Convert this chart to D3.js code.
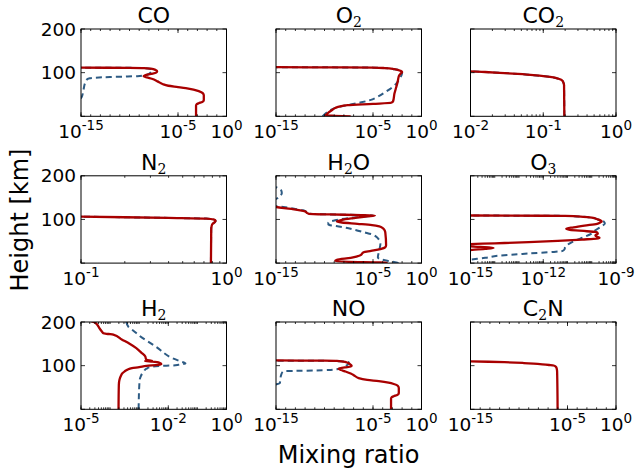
<!DOCTYPE html>
<html><head><meta charset="utf-8">
<script src="https://cdn.jsdelivr.net/npm/d3@7"></script>
<style>
body{margin:0;background:#fff}
svg{display:block}
text{font-family:"DejaVu Sans",sans-serif;fill:#000}
</style>
</head><body>
<svg id="c" width="635" height="472"></svg>
<script>
// ---------------- data: each profile is [height km, log10(mixing ratio)] ----------------
const titles = ["CO","O_2","CO_2","N_2","H_2O","O_3","H_2","NO","C_2N"];
const xDomainExp = [[-15,0],[-15,0],[-2,0],[-1,0],[-15,0],[-15,-9],[-5,0],[-15,0],[-15,0]];
const xTickLabelExp = [[-15,-5,0],[-15,-5,0],[-2,-1,0],[-1,0],[-15,-5,0],[-15,-12,-9],[-5,-2,0],[-15,-5,0],[-15,-5,0]];
const heightTicks = [0,100,200];
const heightLabels = [100,200];

const coRed = [[112.5,-17],[111.5,-15],[111,-10],[110.5,-8.5],[109,-7.8],[106,-7.3],[103,-7.15],[100,-7.25],[97,-7.8],[94,-8.4],[92,-8.55],[89,-8.2],[86,-7.7],[80,-7.1],[74,-6.6],[70,-6.0],[67,-5.0],[64.5,-4.2],[61,-3.4],[57.5,-2.86],[53,-2.45],[48,-2.34],[37,-2.34],[33,-2.5],[30,-2.86],[27,-3.1],[24,-3.14],[0,-3.14]];
const coBlue = [[30,-16],[44,-14.93],[60,-14.75],[75,-14.6],[83,-14.45],[87,-14.1],[88.5,-13.5],[90,-12],[91,-10.5],[92,-9.2],[93.5,-8.5],[97,-8.0],[101,-7.8],[106,-7.65],[109,-7.9],[110.5,-8.5],[111,-10],[111.5,-15],[112.5,-17]];

const o2Red = [[113,-17],[112.5,-15],[112,-8],[111.5,-5],[110.5,-3.8],[108,-2.8],[104,-2.15],[101.5,-2.0],[98,-2.15],[94,-2.3],[90,-2.36],[80,-2.45],[67,-2.6],[52,-2.79],[34.5,-2.93],[31,-3.14],[28.5,-5.0],[25.5,-7.6],[22,-8.5],[19,-8.9],[14,-9.25],[8.4,-9.6],[4,-9.8],[2.3,-9.9],[1.2,-9.0],[0,-7.3]];
const o2Blue = [[0,-10.2],[2,-10.1],[8,-9.8],[14,-9.4],[18,-9.0],[21,-8.7],[24,-8.0],[27,-7.3],[32,-6.2],[37,-5.3],[45,-4.5],[56,-3.7],[65,-3.1],[75,-2.6],[85,-2.3],[95,-2.05],[100,-2.0],[104,-2.15],[108,-2.8],[110.5,-3.8],[111.5,-5],[112,-8],[112.5,-15],[113,-17]];

const co2Red = [[104.5,-3],[103,-2],[101.5,-1.8],[99.7,-1.6],[97,-1.35],[94.3,-1.135],[91.5,-0.97],[89,-0.86],[86,-0.79],[83,-0.745],[78,-0.725],[71,-0.714],[0,-0.71]];
const co2Blue = [[104.5,-3],[103,-2],[101.5,-1.8],[99.7,-1.6],[97,-1.35],[94.3,-1.135],[91.5,-0.97],[89,-0.86],[86,-0.79],[83,-0.745],[78,-0.725],[71,-0.714],[0,-0.71]];

const n2Red = [[108,-1.5],[106.3,-1],[105,-0.7],[103.5,-0.4],[102,-0.14],[100,-0.09],[97,-0.075],[94,-0.08],[90,-0.095],[85,-0.102],[78,-0.105],[0,-0.107]];
const n2Blue = [[108,-1.5],[106.3,-1],[105,-0.7],[103.5,-0.4],[102,-0.14],[100,-0.09],[97,-0.075],[94,-0.08],[90,-0.095],[85,-0.102],[78,-0.105],[0,-0.107]];

const h2oRed = [[135,-18],[129.5,-15.3],[128.5,-15],[124,-13.4],[121,-12.5],[118.5,-12.0],[115,-11.8],[113,-11.6],[111.5,-9.5],[110,-6.2],[108.8,-4.8],[107,-5.6],[103,-7.0],[99,-8.2],[95.4,-8.72],[93,-8.2],[90,-6.6],[87,-5.1],[84,-4.35],[80,-3.98],[75,-3.8],[70,-3.73],[41,-3.65],[36,-3.75],[32,-4.24],[28,-5.2],[25,-5.97],[18,-6.3],[12,-7.3],[7.7,-8.72],[4.6,-8.9],[3,-7.5],[1.5,-4.24],[0,-3.5]];
const h2oBlue = [[180,-16],[172,-14.8],[166,-14.45],[160,-14.4],[154,-14.6],[148,-14.9],[143,-15.4],[138,-16],[133,-16],[130,-14.8],[127,-13.8],[124,-13.0],[121,-12.2],[118,-11.9],[115,-11.7],[113,-11.5],[111.5,-9.5],[110,-6.2],[109,-4.9],[107,-5.8],[103,-7.5],[98,-8.9],[93,-9.6],[88,-9.6],[85,-8.8],[82,-8.0],[76,-6.8],[71,-5.97],[65,-5.0],[59,-4.6],[50,-4.3],[44,-4.24],[35,-4.3],[25,-4.4],[13,-4.5],[8,-4.07],[4,-3.2],[1.5,-2.6],[0,-2.37]];

const o3Red = [[112,-17],[110,-15.5],[109,-15],[108.5,-12],[108,-11.1],[106,-10.35],[104,-10.0],[100,-9.75],[97,-9.62],[95.4,-9.59],[93,-9.65],[90,-9.78],[86,-10.3],[82,-10.75],[78.5,-11.05],[76,-10.9],[73,-10.2],[70.5,-9.78],[67,-9.75],[64,-9.85],[61,-9.8],[58,-9.68],[56,-9.8],[54,-10.4],[51,-11.4],[48,-12.6],[46,-13.6],[44.5,-14.5],[43,-15.1],[41,-15.5],[39,-15.2],[37,-14.6],[34.5,-14.05],[32.5,-14.4],[30,-15],[28,-15.5],[25,-17],[0,-17]];
const o3Blue = [[0,-17],[5,-15.4],[8,-15],[12,-14.4],[17,-13.85],[22,-12.6],[25.5,-11.6],[28,-11.2],[32,-11.12],[37,-11.1],[42,-11.0],[47,-10.85],[52,-10.66],[60,-10.3],[68,-10.0],[75,-9.85],[84,-9.6],[91,-9.46],[95,-9.5],[98,-9.62],[100,-9.75],[104,-10.0],[106,-10.35],[108,-11.1],[108.5,-12],[109,-15],[110,-15.5],[112,-17]];

const h2Red = [[202,-4.65],[199,-4.52],[185,-4.36],[177,-4.27],[174,-4.23],[172.5,-4.05],[171,-3.89],[160,-3.6],[150,-3.33],[140,-3.1],[130,-2.93],[121,-2.79],[116,-2.77],[113,-2.74],[111.5,-2.56],[110.5,-2.8],[109,-2.55],[106.5,-2.3],[104,-2.24],[102,-2.35],[99.5,-2.75],[96.5,-3.0],[94.3,-3.25],[91,-3.4],[87,-3.5],[83,-3.57],[75,-3.64],[67,-3.68],[56,-3.7],[0,-3.71]];
const h2Blue = [[202,-3.45],[189,-3.37],[180,-3.2],[170,-3.02],[143,-2.42],[116,-1.82],[110,-1.6],[105,-1.41],[102,-1.65],[100.5,-1.85],[99.5,-2.3],[97,-2.6],[93,-2.75],[86.4,-2.85],[75,-2.95],[63.6,-2.99],[0,-3.02]];

const noRed = [[113,-17],[112,-15],[111.5,-10],[111,-8.72],[108,-7.8],[104,-7.4],[100,-7.2],[98,-7.3],[96,-7.9],[92.8,-8.55],[90,-8.3],[87,-7.9],[82,-7.3],[77,-6.9],[71.5,-6.48],[67.5,-5.6],[64.5,-4.4],[61,-3.4],[58,-2.86],[54,-2.45],[49,-2.34],[37,-2.34],[33,-2.5],[30,-2.86],[27,-3.1],[24,-3.14],[0,-3.14]];
const noBlue = [[50,-16],[56,-15.2],[60,-14.6],[70,-14.55],[80,-14.45],[86,-14.3],[87.5,-14.0],[88,-13],[89,-11],[90,-9.6],[92,-8.7],[95,-8.2],[100,-7.75],[105,-7.52],[108,-7.5],[110,-8.4],[111,-10],[111.5,-15],[112.5,-17]];

const c2nRed = [[111,-17],[110.5,-15.5],[110,-15],[108,-11.5],[106,-9.5],[104.6,-8.5],[103,-7.6],[101.5,-6.9],[100.3,-6.43],[97,-6.18],[92,-6.1],[86,-6.07],[0,-6.02]];
const c2nBlue = [];

const redSeries = [coRed,o2Red,co2Red,n2Red,h2oRed,o3Red,h2Red,noRed,c2nRed];
const blueSeries = [coBlue,o2Blue,co2Blue,n2Blue,h2oBlue,o3Blue,h2Blue,noBlue,c2nBlue];

// ---------------- layout ----------------
const colLeft = [81, 276, 470.5];
const rowTop = [29, 175.8, 322];
const PW = 145.5, PH = 87.3;
const RED = "#a80000", BLUE = "#2d5b84";

const svg = d3.select("#c");

function addSubText(sel, str, mainSize, subSize) {
  const parts = str.split(/(_\d)/).filter(s => s.length);
  let lowered = false;
  parts.forEach(p => {
    if (p.startsWith("_")) {
      sel.append("tspan").text(p.slice(1)).attr("font-size", subSize)
        .attr("font-family", "DejaVu Serif").attr("dy", 4);
      lowered = true;
    } else {
      const t = sel.append("tspan").text(p).attr("font-size", mainSize);
      if (lowered) { t.attr("dy", -4); lowered = false; }
    }
  });
}

titles.forEach((title, i) => {
  const col = i % 3, row = Math.floor(i / 3);
  const g = svg.append("g").attr("transform", `translate(${colLeft[col]},${rowTop[row]})`);
  const [e0, e1] = xDomainExp[i];
  const x = d3.scaleLog().domain([Math.pow(10, e0), Math.pow(10, e1)]).range([0, PW]);
  const y = d3.scaleLinear().domain([0, 200]).range([PH, 0]);

  const clipId = "clip" + i;
  g.append("clipPath").attr("id", clipId).append("rect").attr("width", PW).attr("height", PH);

  const line = d3.line()
    .x(d => x(Math.pow(10, d[1])))
    .y(d => y(d[0]))
    .curve(d3.curveMonotoneY);

  const lines = g.append("g").attr("clip-path", `url(#${clipId})`);
  const blue = blueSeries[i].slice().sort((a, b) => a[0] - b[0]);
  const red = redSeries[i].slice().sort((a, b) => a[0] - b[0]);
  if (blue.length) {
    lines.append("path").attr("d", line(blue)).attr("fill", "none")
      .attr("stroke", BLUE).attr("stroke-width", 2).attr("stroke-dasharray", "6,4");
  }
  lines.append("path").attr("d", line(red)).attr("fill", "none")
    .attr("stroke", RED).attr("stroke-width", 2.3).attr("stroke-linejoin", "round");

  // frame
  g.append("rect").attr("width", PW).attr("height", PH).attr("fill", "none")
    .attr("stroke", "#000").attr("stroke-width", 1);

  // x ticks: majors at labeled exponents, minors
  const span = e1 - e0;
  const minor = [];
  if (span > 8) {
    for (let e = e0; e <= e1; e++) minor.push(Math.pow(10, e));
  } else {
    for (let e = e0; e < e1; e++) {
      for (let m = 1; m <= 9; m++) minor.push(m * Math.pow(10, e));
    }
    minor.push(Math.pow(10, e1));
  }
  const majors = xTickLabelExp[i].map(e => Math.pow(10, e));
  const tickG = g.append("g").attr("stroke", "#000").attr("stroke-width", 0.8);
  minor.forEach(v => {
    const xx = x(v);
    tickG.append("line").attr("x1", xx).attr("x2", xx).attr("y1", PH).attr("y2", PH - 2);
    tickG.append("line").attr("x1", xx).attr("x2", xx).attr("y1", 0).attr("y2", 2);
  });
  majors.forEach(v => {
    const xx = x(v);
    tickG.append("line").attr("x1", xx).attr("x2", xx).attr("y1", PH).attr("y2", PH - 4);
    tickG.append("line").attr("x1", xx).attr("x2", xx).attr("y1", 0).attr("y2", 4);
  });
  heightTicks.forEach(h => {
    const yy = y(h);
    tickG.append("line").attr("x1", 0).attr("x2", 4).attr("y1", yy).attr("y2", yy);
    tickG.append("line").attr("x1", PW).attr("x2", PW - 4).attr("y1", yy).attr("y2", yy);
  });

  // x tick labels
  xTickLabelExp[i].forEach(e => {
    const t = g.append("text").attr("x", x(Math.pow(10, e))).attr("y", PH + 22)
      .attr("text-anchor", "middle").attr("font-size", 18.5);
    t.append("tspan").text("10");
    t.append("tspan").text(String(e)).attr("font-size", 13.5).attr("dy", -8);
  });

  // y tick labels
  if (col === 0) {
    heightLabels.forEach(h => {
      g.append("text").attr("x", -5).attr("y", y(h)).attr("dy", "0.36em")
        .attr("text-anchor", "end").attr("font-size", 18.5).text(h);
    });
  }

  // title
  const tt = g.append("text").attr("x", PW / 2).attr("y", -6).attr("text-anchor", "middle");
  addSubText(tt, title, 22, 14);
});

svg.append("text").attr("transform", "translate(28,220) rotate(-90)")
  .attr("text-anchor", "middle").attr("font-size", 24).text("Height [km]");
svg.append("text").attr("x", 348.5).attr("y", 463)
  .attr("text-anchor", "middle").attr("font-size", 24).text("Mixing ratio");
</script>
</body></html>
